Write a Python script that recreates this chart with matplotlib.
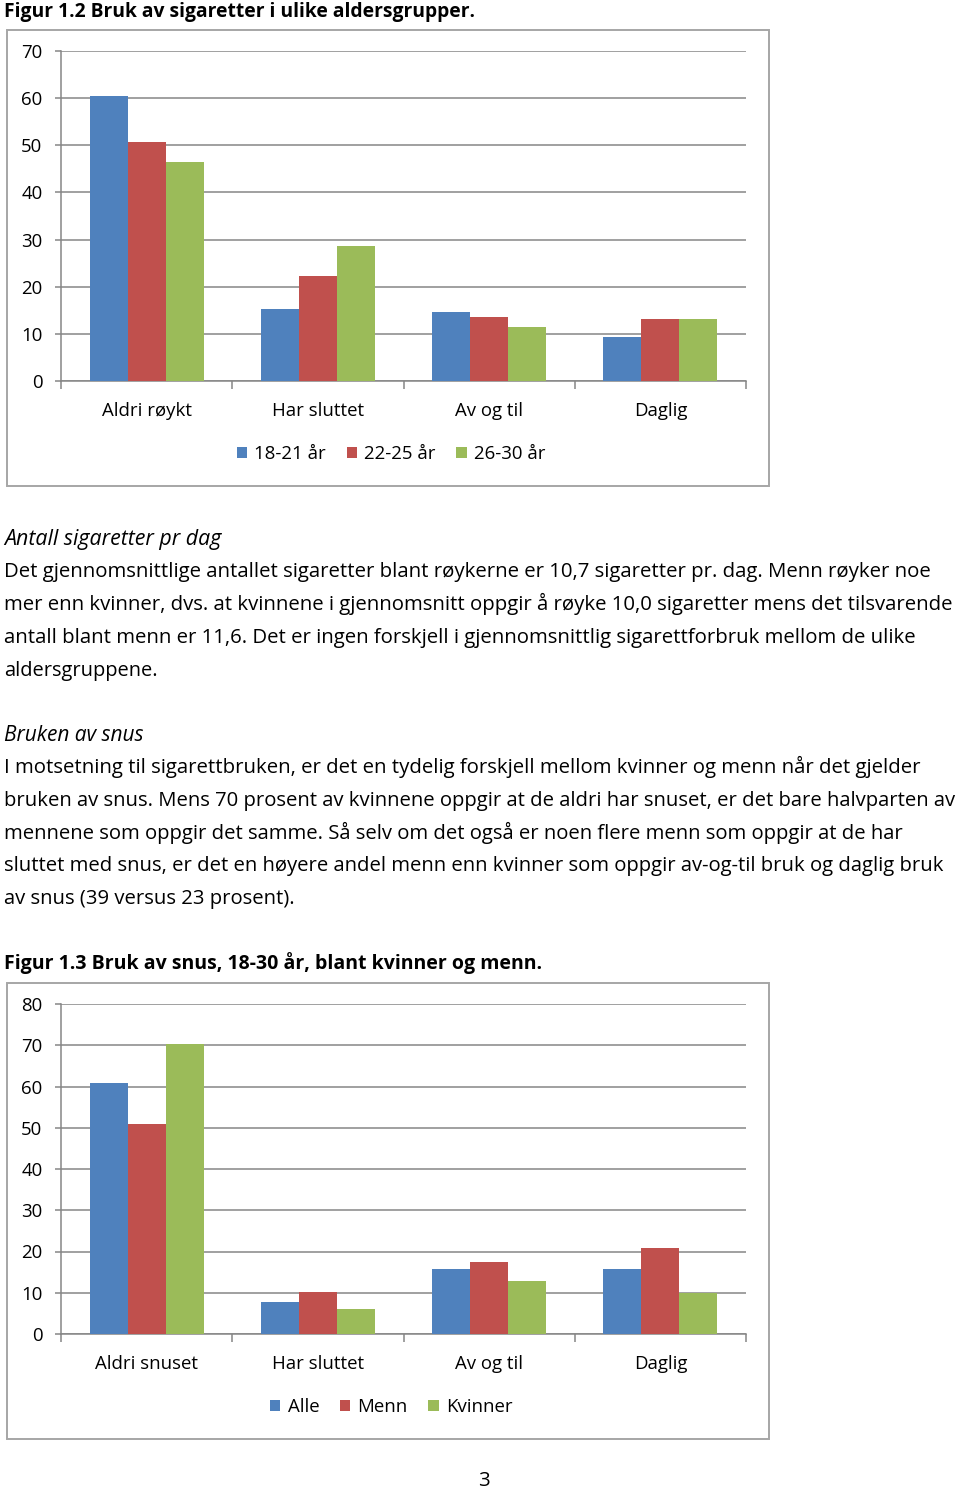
import matplotlib
matplotlib.use('Agg')
import matplotlib.pyplot as plt
import numpy as np
from matplotlib.patches import Rectangle, Patch

W, H = 960, 1489
plt.rcParams['font.family'] = ['Open Sans', 'DejaVu Sans']
FS = 14.75     # body text
BFS = 13.9     # bold figure titles
IFS = 15.2     # italic headings
CFS = 13.4     # chart text

# ---------------- data ----------------
categories1 = ['Aldri røykt', 'Har sluttet', 'Av og til', 'Daglig']
series1 = ['18-21 år', '22-25 år', '26-30 år']
age_18_21 = [60.4, 15.2, 14.7, 9.3]
age_22_25 = [50.7, 22.3, 13.6, 13.2]
age_26_30 = [46.4, 28.7, 11.5, 13.1]
yticks1 = [0, 10, 20, 30, 40, 50, 60, 70]

categories2 = ['Aldri snuset', 'Har sluttet', 'Av og til', 'Daglig']
series2 = ['Alle', 'Menn', 'Kvinner']
alle = [60.8, 7.8, 15.8, 15.8]
menn = [51.0, 10.2, 17.5, 20.8]
kvinner = [70.2, 6.1, 12.8, 10.0]
yticks2 = [0, 10, 20, 30, 40, 50, 60, 70, 80]

colors = ['#4F81BD', '#C0504D', '#9BBB59']
GRID = '#868686'

fig = plt.figure(figsize=(W / 100, H / 100), dpi=100)
renderer = fig.canvas.get_renderer()


def px(x, y):
    return x / W, 1 - y / H


def draw_chart(frame_top, frame_bot, ax_top, ax_bot, cats, names, series, yticks):
    fig.add_artist(Rectangle(px(7, frame_bot), 762 / W, (frame_bot - frame_top) / H,
                             transform=fig.transFigure, fill=False,
                             edgecolor='#a6a6a6', lw=1.4))
    ax = fig.add_axes([61 / W, 1 - ax_bot / H, 685 / W, (ax_bot - ax_top) / H])
    w = 1 / 4.5
    x = np.arange(len(cats))
    handles = []
    for j, (vals, c, nm) in enumerate(zip(series, colors, names)):
        ax.bar(x + (j - 1) * w, vals, width=w, color=c, edgecolor='none', zorder=3)
        handles.append(Patch(facecolor=c, edgecolor='none', label=nm))
    ax.set_xlim(-0.5, len(cats) - 0.5)
    ax.set_ylim(yticks[0], yticks[-1])
    ax.set_yticks(yticks)
    ax.set_yticklabels([str(t) for t in yticks], fontsize=CFS)
    ax.yaxis.grid(True, color=GRID, lw=1.1, zorder=0)
    ax.set_axisbelow(True)
    for s in ['top', 'right']:
        ax.spines[s].set_visible(False)
    for s in ['left', 'bottom']:
        ax.spines[s].set_color(GRID)
        ax.spines[s].set_linewidth(1.1)
    ax.tick_params(axis='y', length=4.3, color=GRID, width=1.1, pad=9.0, labelcolor='black')
    ax.set_xticks(x)
    ax.set_xticklabels(cats, fontsize=CFS)
    ax.set_xticks(np.arange(len(cats) + 1) - 0.5, minor=True)
    ax.tick_params(axis='x', which='major', length=0, pad=15.0)
    ax.tick_params(axis='x', which='minor', length=5.8, color=GRID, width=1.1, direction='out')
    ax.legend(handles=handles, loc='center', bbox_to_anchor=(0.482, -0.222), ncol=3,
              frameon=False, handlelength=0.58, handleheight=0.58, handletextpad=0.38,
              columnspacing=1.1, fontsize=CFS, borderaxespad=0)
    return ax


def text(xp, yb, s, right=None, size=FS, **kw):
    """Place a text line at baseline yb; if right is given, fit its width to end there."""
    t = fig.text(*px(xp, yb), s, va='baseline', ha='left', fontsize=size, **kw)
    if right is not None:
        bb = t.get_window_extent(renderer=renderer)
        t.set_fontsize(size * (right - xp) / bb.width)
    return t


text(4, 17.5, 'Figur 1.2 Bruk av sigaretter i ulike aldersgrupper.', 474, BFS, fontweight='bold')
draw_chart(30, 486, 51, 381, categories1, series1, [age_18_21, age_22_25, age_26_30], yticks1)

text(4, 545, 'Antall sigaretter pr dag', 222, IFS, style='italic')
body1 = [
    'Det gjennomsnittlige antallet sigaretter blant røykerne er 10,7 sigaretter pr. dag. Menn røyker noe',
    'mer enn kvinner, dvs. at kvinnene i gjennomsnitt oppgir å røyke 10,0 sigaretter mens det tilsvarende',
    'antall blant menn er 11,6. Det er ingen forskjell i gjennomsnittlig sigarettforbruk mellom de ulike',
    'aldersgruppene.',
]
body1_right = [935, 954, 917, 157]
for i, (line, r) in enumerate(zip(body1, body1_right)):
    text(4, 577.5 + i * 32.8, line, r)

text(4, 741, 'Bruken av snus', 144, IFS, style='italic')
body2 = [
    'I motsetning til sigarettbruken, er det en tydelig forskjell mellom kvinner og menn når det gjelder',
    'bruken av snus. Mens 70 prosent av kvinnene oppgir at de aldri har snuset, er det bare halvparten av',
    'mennene som oppgir det samme. Så selv om det også er noen flere menn som oppgir at de har',
    'sluttet med snus, er det en høyere andel menn enn kvinner som oppgir av-og-til bruk og daglig bruk',
    'av snus (39 versus 23 prosent).',
]
body2_right = [923, 957, 903, 946, 295]
for i, (line, r) in enumerate(zip(body2, body2_right)):
    text(4, 773.3 + i * 32.7, line, r)

text(4, 969.5, 'Figur 1.3 Bruk av snus, 18-30 år, blant kvinner og menn.', 540, BFS, fontweight='bold')
draw_chart(983, 1439, 1004, 1334, categories2, series2, [alle, menn, kvinner], yticks2)

fig.text(*px(484, 1486), '3', ha='center', va='baseline', fontsize=FS)

fig.savefig('out.png', dpi=100, facecolor='white')
